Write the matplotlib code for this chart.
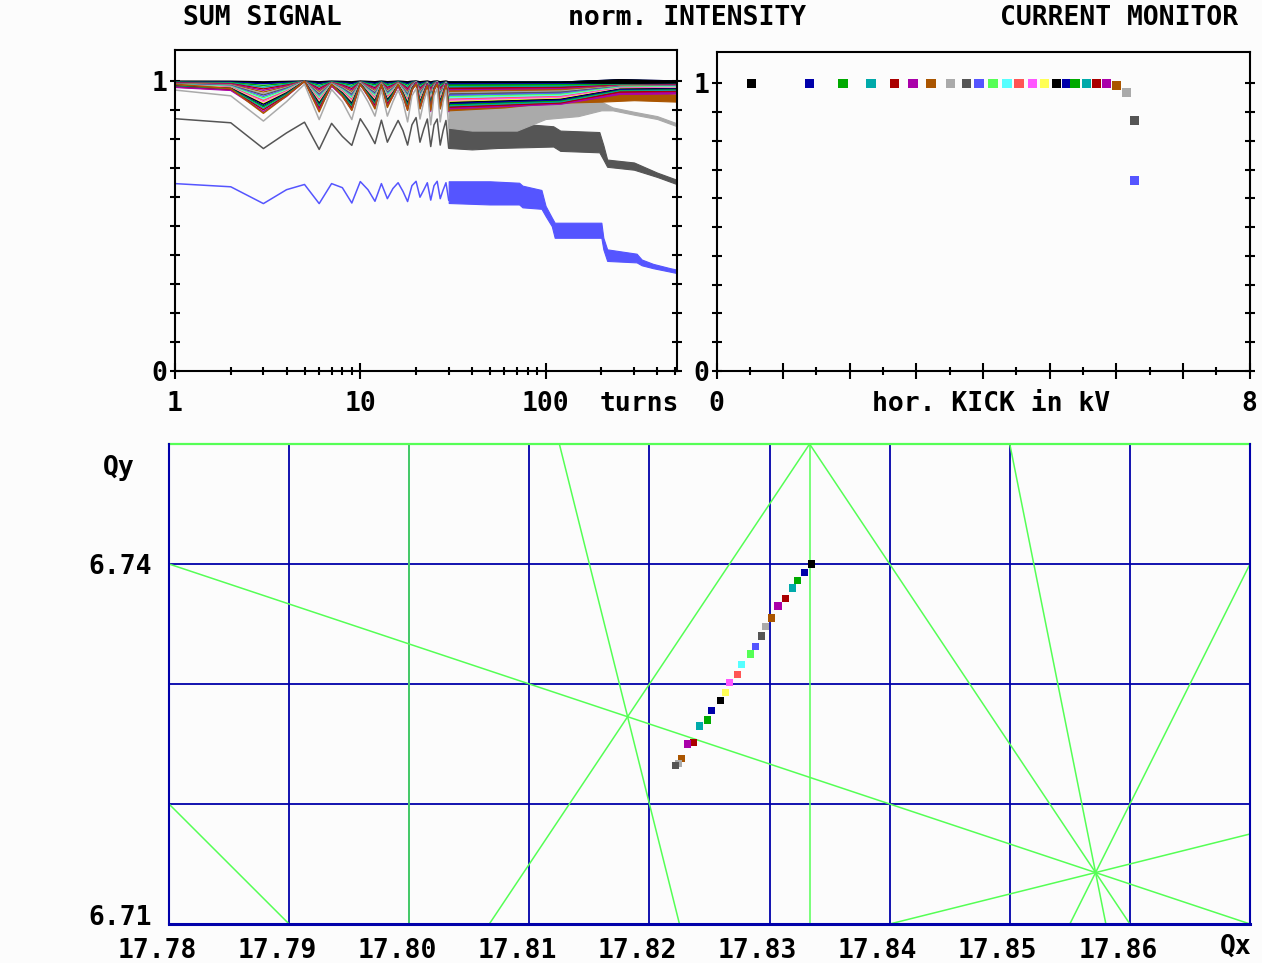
import numpy as np
import matplotlib.pyplot as plt
from matplotlib.ticker import FixedLocator, NullFormatter
from matplotlib.transforms import ScaledTranslation

plt.rcParams['font.family'] = ['DejaVu Sans Mono']
plt.rcParams['font.weight'] = 'bold'
plt.rcParams['font.size'] = 19

# EGA palette, one colour per kick, cycling
ega = ['#000000', '#0000AA', '#00AA00', '#00AAAA', '#AA0000', '#AA00AA', '#AA5500',
       '#AAAAAA', '#555555', '#5555FF', '#55FF55', '#55FFFF', '#FF5555', '#FF55FF',
       '#FFFF55']
n_kicks = 25
kick_colors = [ega[i % len(ega)] for i in range(n_kicks)]

# current monitor: horizontal kick (kV) and normalised intensity
kick_kv = [0.52, 1.39, 1.90, 2.32, 2.67, 2.95, 3.22, 3.51, 3.75, 3.94, 4.15, 4.36, 4.54,
           4.74, 4.92, 5.10, 5.25, 5.38, 5.55, 5.70, 5.85, 6.00, 6.15, 6.27, 6.27]
intensity = [1.0] * 21 + [0.993, 0.967, 0.869, 0.661]

# measured tunes per kick (last beam gone before a tune was found)
qx = [17.8335, 17.8329, 17.8323, 17.8319, 17.8313, 17.8307, 17.8302, 17.8297, 17.8293,
      17.8288, 17.8284, 17.8277, 17.8273, 17.8267, 17.8263, 17.8259, 17.8252, 17.8248,
      17.8242, 17.8237, 17.8232, 17.8227, 17.8224, 17.8222]
qy = [6.7400, 6.7393, 6.7386, 6.7380, 6.7371, 6.7365, 6.7355, 6.7348, 6.7340, 6.7331,
      6.7325, 6.7316, 6.7308, 6.7301, 6.7293, 6.7286, 6.7278, 6.7270, 6.7265, 6.7251,
      6.7250, 6.7238, 6.7234, 6.7232]

# resonance lines a*Qx + b*Qy = p
res_a = [1, 2, 3, 3, 4, 5, 2, 1, 5, 6, 0]
res_b = [3, 2, -2, 2, 1, 1, -1, -4, 0, 0, 4]
res_p = [38, 49, 40, 67, 78, 96, 29, -9, 89, 107, 27]

grid_qx = [17.78, 17.79, 17.80, 17.81, 17.82, 17.83, 17.84, 17.85, 17.86, 17.87]
grid_qy = [6.71, 6.72, 6.73, 6.74, 6.75]
qx_labels = ['17.78', '17.79', '17.80', '17.81', '17.82', '17.83', '17.84', '17.85', '17.86']

# sum signal, first 30 turns (one value per turn)
early_turns = np.arange(1, 31)
sum_brown = [0.99, 0.975, 0.89, 0.95, 1.0, 0.895, 0.99, 0.95, 0.90, 0.99, 0.95, 0.905,
             0.99, 0.91, 0.95, 0.99, 0.95, 0.90, 0.97, 0.99, 0.905, 0.95, 0.985, 0.90,
             0.97, 0.99, 0.905, 0.95, 0.985, 0.90]
sum_lgray = [0.97, 0.95, 0.863, 0.93, 0.99, 0.868, 0.972, 0.93, 0.868, 0.975, 0.93, 0.88,
             0.97, 0.88, 0.93, 0.97, 0.93, 0.86, 0.95, 0.975, 0.87, 0.93, 0.97, 0.85,
             0.95, 0.975, 0.86, 0.93, 0.97, 0.84]
sum_dgray = [0.871, 0.857, 0.768, 0.822, 0.859, 0.765, 0.855, 0.81, 0.779, 0.871, 0.83,
             0.785, 0.866, 0.79, 0.83, 0.865, 0.83, 0.78, 0.85, 0.875, 0.79, 0.835, 0.87,
             0.775, 0.85, 0.87, 0.78, 0.83, 0.865, 0.77]
sum_lblue = [0.647, 0.636, 0.578, 0.626, 0.644, 0.578, 0.647, 0.633, 0.58, 0.654, 0.626,
             0.586, 0.647, 0.595, 0.63, 0.65, 0.62, 0.585, 0.64, 0.655, 0.60, 0.625, 0.65,
             0.59, 0.64, 0.655, 0.595, 0.625, 0.65, 0.59]
# small kicks: common zigzag (fraction of dip) and dip depth per kick
cluster_shape = [0.2, 0.3, 1.0, 0.5, 0.0, 0.95, 0.15, 0.5, 0.95, 0.1, 0.5, 0.85, 0.15,
                 0.8, 0.5, 0.15, 0.5, 0.95, 0.3, 0.05, 0.9, 0.5, 0.1, 1.0, 0.3, 0.05,
                 0.9, 0.5, 0.1, 1.0]
cluster_depth = [0.003, 0.008, 0.014, 0.020, 0.026, 0.031, 0.037, 0.042, 0.047, 0.052,
                 0.057, 0.062, 0.066, 0.071, 0.075, 0.079, 0.084, 0.088, 0.093, 0.098,
                 0.104]
cluster_end = [1.0, 1.0, 0.999, 0.998, 0.997, 0.996, 0.995, 0.994, 0.993, 0.992, 0.99,
               0.989, 0.988, 0.986, 0.985, 0.983, 0.98, 0.978, 0.975, 0.97, 0.962]

# later turns: oscillation envelope (turn, low, high)
band_lblue_t = [30, 50, 72, 75, 95, 100, 108, 112, 200, 205, 215, 310, 330, 380, 470, 512]
band_lblue_lo = [0.58, 0.575, 0.575, 0.565, 0.56, 0.535, 0.50, 0.46, 0.46, 0.42,
                 0.38, 0.375, 0.365, 0.355, 0.343, 0.338]
band_lblue_hi = [0.655, 0.655, 0.65, 0.64, 0.625, 0.57, 0.53, 0.512, 0.512, 0.46,
                 0.42, 0.405, 0.385, 0.37, 0.355, 0.35]
band_dgray_t = [30, 40, 55, 110, 120, 195, 205, 215, 300, 400, 512]
band_dgray_lo = [0.77, 0.765, 0.77, 0.775, 0.76, 0.755, 0.73, 0.705, 0.695, 0.67, 0.645]
band_dgray_hi = [0.87, 0.875, 0.86, 0.845, 0.83, 0.825, 0.78, 0.73, 0.72, 0.685, 0.66]
band_lgray_t = [30, 40, 70, 100, 150, 200, 230, 300, 400, 512]
band_lgray_lo = [0.84, 0.83, 0.83, 0.87, 0.88, 0.90, 0.90, 0.885, 0.87, 0.845]
band_lgray_hi = [0.975, 0.975, 0.97, 0.96, 0.955, 0.93, 0.91, 0.895, 0.88, 0.855]
band_brown_t = [30, 60, 100, 200, 300, 512]
band_brown_lo = [0.90, 0.91, 0.925, 0.93, 0.935, 0.93]
band_brown_hi = [0.99, 0.985, 0.98, 0.97, 0.96, 0.955]

W, H = 1262, 963
fig = plt.figure(figsize=(W / 100, H / 100), dpi=100, facecolor='#fcfcfc')


def px_axes(x0, y0, x1, y1):
    return fig.add_axes([x0 / W, 1 - y1 / H, (x1 - x0) / W, (y1 - y0) / H])


ax1 = px_axes(175, 49.5, 677, 371)
ax2 = px_axes(716.5, 51.5, 1249.5, 371)
ax3 = px_axes(169, 444, 1250, 924)

for ax in (ax1, ax2):
    ax.set_facecolor('#fcfcfc')
    for s in ax.spines.values():
        s.set_linewidth(1.5)
    ax.set_ylim(0, 1.11)
    ax.yaxis.set_major_locator(FixedLocator([0, 1]))
    ax.yaxis.set_minor_locator(FixedLocator([0.1, 0.2, 0.3, 0.4, 0.5, 0.6, 0.7, 0.8, 0.9]))
    ax.tick_params(which='both', direction='inout', width=1.5, right=True)
    ax.tick_params(axis='y', which='both', length=6.5, pad=2)
    ax.tick_params(axis='x', which='major', length=11.5, pad=9)
    ax.tick_params(axis='x', which='minor', length=6)

# sum signal
ax1.set_xscale('log')
bands = [(band_lblue_t, band_lblue_lo, band_lblue_hi, 24),
         (band_dgray_t, band_dgray_lo, band_dgray_hi, 23),
         (band_lgray_t, band_lgray_lo, band_lgray_hi, 22),
         (band_brown_t, band_brown_lo, band_brown_hi, 21)]
for t, lo, hi, k in bands:
    ax1.fill_between(t, lo, hi, color=kick_colors[k], lw=0.8, edgecolor=kick_colors[k])
for k in reversed(range(len(cluster_depth))):
    d, e = cluster_depth[k], cluster_end[k]
    ax1.fill_between([30, 120, 250, 512],
                     [1 - 0.9 * d, 1 - 0.75 * d, e - 0.006, e - 0.004],
                     [1.0, 1.0, e + 0.008, e + 0.004],
                     color=kick_colors[k], lw=0.6, edgecolor=kick_colors[k])
for k in range(len(cluster_depth)):
    d = cluster_depth[k]
    ax1.plot(early_turns, [1 - d * s for s in cluster_shape], color=kick_colors[k],
             lw=1.6 if k == 0 else 1.0)
for vals, k in [(sum_brown, 21), (sum_lgray, 22), (sum_dgray, 23), (sum_lblue, 24)]:
    ax1.plot(early_turns, vals, color=kick_colors[k], lw=1.1)
ax1.set_xlim(1, 512)
ax1.xaxis.set_major_locator(FixedLocator([1, 10, 100]))
ax1.xaxis.set_major_formatter(plt.FixedFormatter(['1', '10', '100']))
ax1.xaxis.set_minor_locator(FixedLocator([2, 3, 4, 5, 6, 7, 8, 9, 20, 30, 40, 50, 60, 70,
                                          80, 90, 200, 300, 400, 500]))
ax1.xaxis.set_minor_formatter(NullFormatter())
ax1.set_yticklabels(['0', '1'])

# current monitor
ax2.scatter(kick_kv, intensity, c=kick_colors, marker='s', s=44, linewidths=0, zorder=3)
ax2.set_xlim(0, 8)
ax2.xaxis.set_major_locator(FixedLocator([0, 1, 2, 3, 4, 5, 6, 7, 8]))
ax2.xaxis.set_major_formatter(plt.FixedFormatter(['0', '', '', '', '', '', '', '', '8']))
ax2.xaxis.set_minor_locator(FixedLocator([0.5, 1.5, 2.5, 3.5, 4.5, 5.5, 6.5, 7.5]))
ax2.set_yticklabels(['0', '1'])

# tune diagram
ax3.set_facecolor('#fcfcfc')
ax3.set_xlim(17.78, 17.87)
ax3.set_ylim(6.71, 6.75)
for q in grid_qx:
    ax3.axvline(q, color='#0000AA', lw=1.3, zorder=1)
for q in grid_qy:
    ax3.axhline(q, color='#0000AA', lw=1.3, zorder=1)
for a, b, p in zip(res_a, res_b, res_p):
    if b == 0:
        ax3.axvline(p / a, color='#55FF55', lw=1.1, zorder=2)
    elif a == 0:
        ax3.axhline(p / b, color='#55FF55', lw=1.6, zorder=2, clip_on=False)
    else:
        x0, x1 = grid_qx[0], grid_qx[-1]
        ax3.axline((x0, (p - a * x0) / b), (x1, (p - a * x1) / b),
                   color='#55FF55', lw=1.1, zorder=2)
ax3.scatter(qx, qy, c=kick_colors[:len(qx)], marker='s', s=26, linewidths=0, zorder=4)
for side, s in ax3.spines.items():
    s.set_color('#0000AA')
    s.set_linewidth(1.5)
ax3.spines['top'].set_visible(False)
ax3.spines['bottom'].set_linewidth(2.2)
ax3.set_xticks(grid_qx[:-1])
ax3.set_xticklabels(qx_labels)
ax3.set_yticks([6.71, 6.74])
ax3.set_yticklabels(['6.71', '6.74'])
ax3.tick_params(length=0)
ax3.tick_params(axis='x', pad=10)
ax3.tick_params(axis='y', pad=12)
shift = ScaledTranslation(-0.12, 0, fig.dpi_scale_trans)
for lab in ax3.get_xticklabels():
    lab.set_transform(lab.get_transform() + shift)
low_lab = ax3.get_yticklabels()[0]
low_lab.set_transform(low_lab.get_transform() + ScaledTranslation(0, 0.09, fig.dpi_scale_trans))


def ftext(x, y, s, **kw):
    fig.text(x / W, 1 - y / H, s, va='center', **kw)


ftext(183, 18, 'SUM SIGNAL')
ftext(568, 18, 'norm. INTENSITY')
ftext(1000, 18, 'CURRENT MONITOR')
ftext(600, 404, 'turns')
ftext(872, 404, 'hor. KICK in kV')
ftext(1236, 947, 'Qx', ha='center')
ftext(119, 468, 'Qy', ha='center')

fig.savefig('out.png', dpi=100, facecolor=fig.get_facecolor())
